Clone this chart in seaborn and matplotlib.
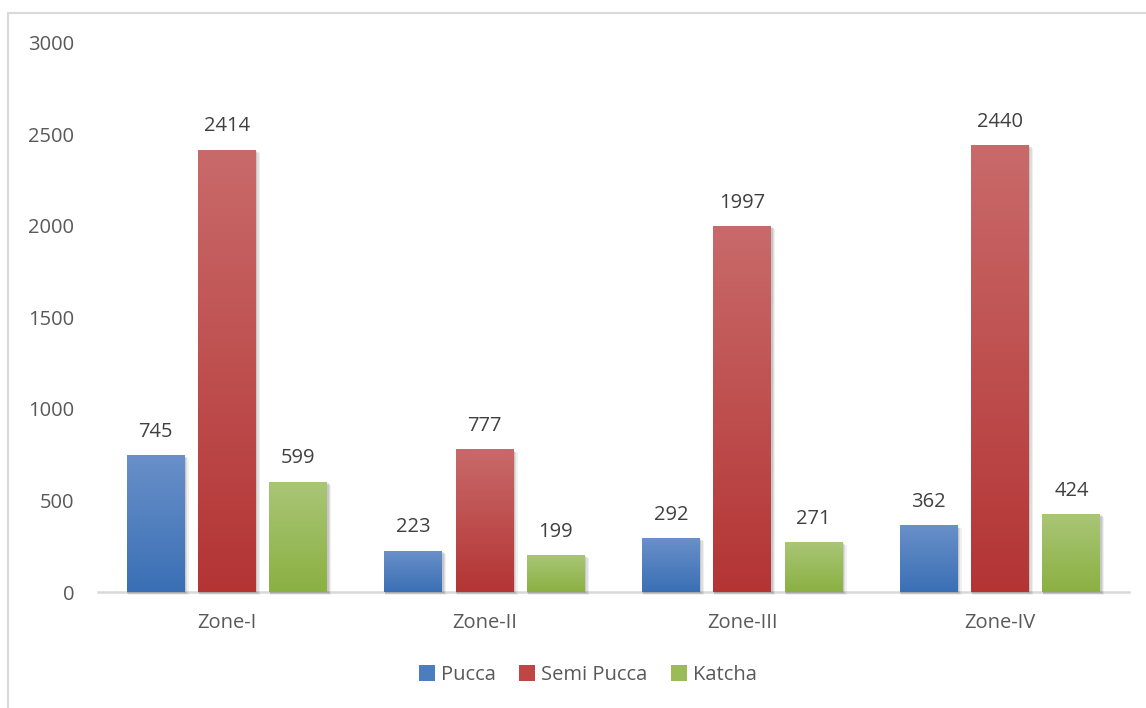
import numpy as np
import pandas as pd
import matplotlib
matplotlib.use("Agg")
import matplotlib.pyplot as plt
from matplotlib.patches import Rectangle, Patch
from matplotlib.colors import to_rgb
import seaborn as sns

zones = ["Zone-I", "Zone-II", "Zone-III", "Zone-IV"]
house_types = ["Pucca", "Semi Pucca", "Katcha"]
pucca = [745, 223, 292, 362]
semi_pucca = [2414, 777, 1997, 2440]
katcha = [599, 199, 271, 424]
y_ticks = [0, 500, 1000, 1500, 2000, 2500, 3000]

# top / bottom shades for each series' vertical gradient
top_colors = ["#6990c9", "#c96a6a", "#a9c676"]
bottom_colors = ["#3a6fb5", "#b43434", "#8bb042"]
mid_colors = ["#4a7ebf", "#c04545", "#9bbb59"]

df = pd.DataFrame({
    "zone": np.repeat(zones, 3),
    "type": house_types * len(zones),
    "count": [v for trip in zip(pucca, semi_pucca, katcha) for v in trip],
})

sns.set_style("white")
plt.rcParams["font.family"] = ["Open Sans", "DejaVu Sans"]

fig = plt.figure(figsize=(11.46, 7.08), dpi=100)
ax = fig.add_axes([98 / 1146, 1 - 592 / 708, (1129 - 98) / 1146, (592 - 43) / 708])

sns.barplot(data=df, x="zone", y="count", hue="type", hue_order=house_types,
            palette=mid_colors, width=0.83, gap=0.187, ax=ax, legend=False,
            errorbar=None)

ax.set_xlim(-0.5, len(zones) - 0.5)
ax.set_ylim(0, 3000)

# repaint every bar with a vertical gradient plus a soft drop shadow
grad = np.linspace(0, 1, 256)[:, None]
for ci, container in enumerate(ax.containers):
    t = np.array(to_rgb(top_colors[ci]))
    b = np.array(to_rgb(bottom_colors[ci]))
    img = (t[None, None, :] * (1 - grad[:, :, None]) + b[None, None, :] * grad[:, :, None])
    for bar in container:
        x, w, h = bar.get_x(), bar.get_width(), bar.get_height()
        for k, alpha in enumerate([0.10, 0.08, 0.06]):
            dx = 0.004 * (k + 1)
            dy = 6 * (k + 1)
            ax.add_patch(Rectangle((x + dx * 0.3, -dy), w + dx, h + dy * 0.2,
                                   facecolor="black", alpha=alpha, edgecolor="none",
                                   zorder=1.5, clip_on=False))
        bar.set_facecolor("none")
        bar.set_edgecolor("none")
        ax.imshow(img, extent=[x, x + w, 0, h], aspect="auto", zorder=2,
                  interpolation="bilinear")
    ax.bar_label(container, labels=[f"{int(v)}" for v in container.datavalues],
                 padding=10, fontsize=14.5, color="#404040")

ax.set_xlim(-0.5, len(zones) - 0.5)
ax.set_ylim(0, 3000)
ax.set_yticks(y_ticks)
ax.set_yticklabels([str(v) for v in y_ticks])
ax.set_xlabel("")
ax.set_ylabel("")
ax.tick_params(axis="both", length=0, labelsize=14.5, labelcolor="#595959")
ax.tick_params(axis="y", pad=17)
ax.tick_params(axis="x", pad=15)
for side in ["top", "right", "left"]:
    ax.spines[side].set_visible(False)
ax.spines["bottom"].set_color("#d9d9d9")
ax.spines["bottom"].set_linewidth(1.8)
ax.spines["bottom"].set_zorder(1)

handles = [Patch(facecolor=c, edgecolor="none") for c in mid_colors]
fig.legend(handles, house_types, loc="center", bbox_to_anchor=(588 / 1146, 1 - 675 / 708),
           ncol=3, frameon=False, fontsize=14.5, labelcolor="#595959",
           handlelength=0.8, handleheight=0.8, handletextpad=0.3, columnspacing=1.15)

# chart-area border
fig.patches.append(Rectangle((8 / 1146, -0.02), 1.1, 1 - 13 / 708 + 0.02,
                             transform=fig.transFigure, fill=False,
                             edgecolor="#d9d9d9", linewidth=1.5))

fig.savefig("out.png", dpi=100)
